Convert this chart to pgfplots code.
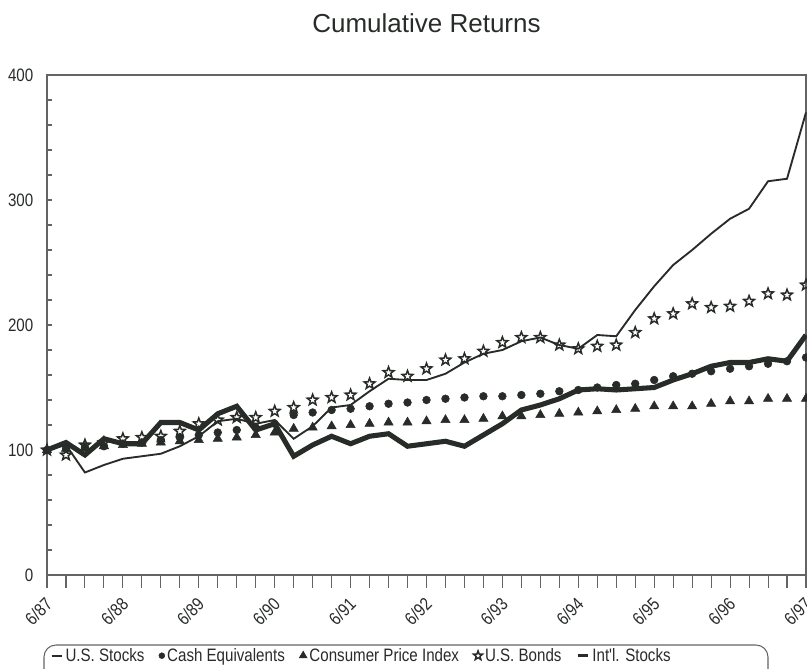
\documentclass[border=0pt]{standalone}
\usepackage{fontspec}
\setmainfont{Liberation Sans}
\newfontfamily\narrowfont{Liberation Sans}[FakeStretch=0.84]
\usepackage{pgfplots}
\usepackage{pgfplotstable}
\pgfplotsset{compat=1.18}
\usetikzlibrary{calc}
\definecolor{ink}{RGB}{40,44,40}
\definecolor{axgray}{RGB}{100,100,100}
\pgfdeclareplotmark{ostar}{%
  \pgfpathmoveto{\pgfqpointpolar{90}{\pgfplotmarksize}}%
  \pgfpathlineto{\pgfqpointpolar{126}{0.42\pgfplotmarksize}}%
  \pgfpathlineto{\pgfqpointpolar{162}{\pgfplotmarksize}}%
  \pgfpathlineto{\pgfqpointpolar{198}{0.42\pgfplotmarksize}}%
  \pgfpathlineto{\pgfqpointpolar{234}{\pgfplotmarksize}}%
  \pgfpathlineto{\pgfqpointpolar{270}{0.42\pgfplotmarksize}}%
  \pgfpathlineto{\pgfqpointpolar{306}{\pgfplotmarksize}}%
  \pgfpathlineto{\pgfqpointpolar{342}{0.42\pgfplotmarksize}}%
  \pgfpathlineto{\pgfqpointpolar{18}{\pgfplotmarksize}}%
  \pgfpathlineto{\pgfqpointpolar{54}{0.42\pgfplotmarksize}}%
  \pgfpathclose\pgfusepathqstroke}
\pgfplotsset{
  lineleg/.style={legend image code/.code={\draw[##1, line width=#1] (0pt,0pt) -- (8pt,0pt);}},
  markleg/.style={legend image code/.code={\draw[##1, mark size=#1] plot coordinates {(3pt,0pt)};}},
}
\pgfplotstableread{
i  us   cash cpi  bond intl
0  100  100  100  100  100
1  104  101  101  96   106
2  82   102  102  104  96
3  88   103  103  106  109
4  93   105  104  109  105
5  95   106  105  110  105
6  97   108  106  111  122
7  103  110  107  115  122
8  111  112  108  121  116
9  123  114  109  124  129
10 125  116  110  126  135
11 121  118  112  126  116
12 124  121  114  131  121
13 109  128  117  134  95
14 119  130  118  140  104
15 134  132  119  142  111
16 136  133  120  144  105
17 147  135  121  153  111
18 157  137  122  162  113
19 156  138  122  159  103
20 156  140  123  165  105
21 161  141  124  172  107
22 170  142  124  173  103
23 177  143  125  179  112
24 180  143  127  186  121
25 187  144  127  190  132
26 190  145  128  190  136
27 184  147  129  184  141
28 181  148  130  181  148
29 192  150  131  183  149
30 191  152  132  184  148
31 212  153  133  194  149
32 231  156  135  205  150
33 248  159  135  209  156
34 260  161  135  217  161
35 273  163  137  214  167
36 285  165  139  215  170
37 293  167  139  219  170
38 315  169  141  225  173
39 317  171  141  224  171
40 370  174  141  232  192
}\data
\begin{document}
\begin{tikzpicture}
\begin{axis}[
  scale only axis, width=569.25pt, height=375pt,
  xmin=0, xmax=40, ymin=0, ymax=400,
  axis line style={axgray, line width=0.9pt},
  xtick={0,4,...,40}, minor xtick={0,1,...,40},
  xticklabels={6/87,6/88,6/89,6/90,6/91,6/92,6/93,6/94,6/95,6/96,6/97},
  ytick={0,100,...,400}, minor ytick={20,40,...,380},
  xtick pos=bottom, ytick pos=left,
  tick align=outside,
  major tick length=9.75pt, minor tick length=9.75pt,
  tick style={axgray, line width=0.8pt},
  y tick style={draw=none},
  ymajorgrids, yminorgrids,
  major grid style={axgray, line width=0.8pt, dash pattern=on 3.75pt off 700pt},
  minor grid style={axgray, line width=0.8pt, dash pattern=on 3.75pt off 700pt},
  /pgf/number format/assume math mode=true,
  tick label style={font=\narrowfont\fontsize{13.5}{15}\selectfont, text=ink},
  x tick label style={xshift=4pt, yshift=-7.5pt, rotate=45, anchor=east},
  yticklabel style={xshift=3pt},
  title={Cumulative Returns},
  title style={at={(0.5,1)}, anchor=base, yshift=25.5pt, font=\fontsize{19.5}{22}\selectfont, text=ink},
  legend columns=-1,
  legend style={at={(0,0)}, anchor=west, xshift=2.5pt, yshift=-60.5pt, draw=none, fill=none, inner sep=0pt,
    font=\narrowfont\fontsize{13.5}{15}\selectfont, text=ink,
    /tikz/every even column/.append style={column sep=9pt},
    nodes={inner xsep=1.8pt}},
  clip=false,
]
\addplot[ink, line width=1.4pt, lineleg=1.4pt] table[x=i,y=us] {\data};
\addlegendentry{U.S. Stocks}
\addplot[ink, only marks, mark=*, mark size=2.9pt, markleg=2.2pt] table[x=i,y=cash] {\data};
\addlegendentry{Cash Equivalents}
\addplot[ink, only marks, mark=triangle*, mark size=4pt, markleg=3.4pt] table[x=i,y=cpi] {\data};
\addlegendentry{Consumer Price Index}
\addplot[ink, only marks, mark=ostar, mark size=4.3pt, mark options={line width=1.1pt}, markleg=3.6pt] table[x=i,y=bond] {\data};
\addlegendentry{U.S. Bonds}
\addplot[ink, line width=3.8pt, lineleg=2.6pt] table[x=i,y=intl] {\data};
\addlegendentry{Int'l. Stocks}
\end{axis}
\draw[axgray, line width=0.8pt, rounded corners=9pt] ($(current axis.south west)+(-2.25pt,-52.5pt)$) rectangle ($(current axis.south west)+(540.75pt,-85pt)$);
\pgfresetboundingbox
\path[use as bounding box] ($(current axis.south west)+(-35.25pt,-69.75pt)$) rectangle ++(605.25pt,501pt);
\end{tikzpicture}
\end{document}
